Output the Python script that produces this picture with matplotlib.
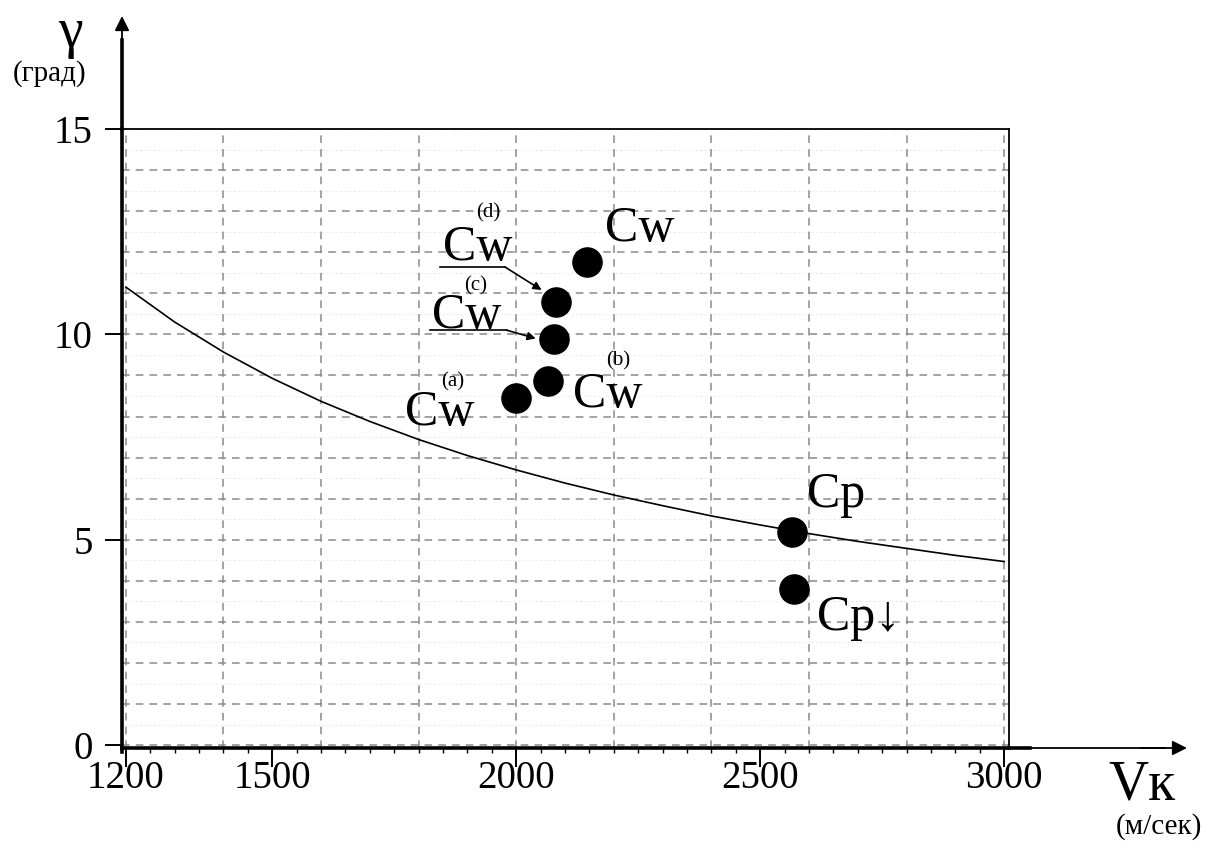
import numpy as np
import matplotlib
matplotlib.use("Agg")
from matplotlib import pyplot as plt
from matplotlib.lines import Line2D
from matplotlib.ticker import MultipleLocator, FixedLocator

plt.rcParams['font.family'] = ['Liberation Serif', 'DejaVu Serif']

# curve gamma(Vk)
curve_v = [1200, 1300, 1400, 1500, 1600, 1700, 1800, 1900, 2000, 2100,
           2200, 2300, 2400, 2500, 2600, 2700, 2800, 2900, 3000]
curve_g = [11.15, 10.30, 9.57, 8.93, 8.37, 7.88, 7.44, 7.05, 6.70, 6.38,
           6.09, 5.83, 5.58, 5.36, 5.15, 4.96, 4.79, 4.62, 4.47]

# measured points
pt_names = ["Cw_a", "Cw_b", "Cw_c", "Cw_d", "Cw", "Cp", "Cp_down"]
pt_v = [2000, 2065, 2077, 2081, 2145, 2565, 2569]
pt_g = [8.45, 8.86, 9.89, 10.79, 11.76, 5.19, 3.80]

x_ticks = [1200, 1500, 2000, 2500, 3000]
y_ticks = [0, 5, 10, 15]

W, H = 1215, 841
fig = plt.figure(figsize=(W / 100, H / 100), dpi=100)
ax = fig.add_axes([122 / W, 1 - 748 / H, 887 / W, 619 / H])

def fpx(x, y):
    return (x / W, 1 - y / H)

ax.set_xlim(1192, 3010)
ax.set_ylim(-0.07, 15)

# grid
for gx in range(1200, 3001, 200):
    ax.axvline(gx, color='#8a8a8a', lw=1.1, ls=(0, (5, 4)), zorder=1)
for gy in range(0, 16):
    ax.axhline(gy, color='#8a8a8a', lw=1.1, ls=(0, (5, 4)), zorder=1)
for gy in np.arange(0.5, 15, 1.0):
    ax.axhline(gy, color='#ececec', lw=0.8, ls=(0, (2, 2)), zorder=0.5)

# spines
for s in ['top', 'right']:
    ax.spines[s].set_linewidth(1.3)
for s in ['left', 'bottom']:
    ax.spines[s].set_linewidth(2.6)

ax.xaxis.set_major_locator(FixedLocator(x_ticks))
ax.xaxis.set_minor_locator(MultipleLocator(50))
ax.yaxis.set_major_locator(FixedLocator(y_ticks))
ax.tick_params(axis='x', which='major', direction='out', length=14, width=1.4,
               labelsize=28, pad=-5)
ax.tick_params(axis='x', which='minor', direction='out', length=3.5, width=1.0)
ax.tick_params(axis='y', which='major', direction='out', length=12, width=1.4,
               labelsize=28, pad=9)
ax.tick_params(top=False, right=False)

# curve and points
ax.plot(curve_v, curve_g, color='black', lw=1.2, zorder=3)
ax.plot(pt_v, pt_g, 'o', color='black', ms=21, zorder=4)

# point labels
fs = 36
sfs = 15
ax.text(2181, 12.27, "Cw", fontsize=fs, ha='left', va='baseline')
ax.text(1850, 11.81, "Cw", fontsize=fs, ha='left', va='baseline')
ax.text(1942, 12.97, "(d)", fontsize=sfs, ha='center', va='center')
ax.text(1827, 10.15, "Cw", fontsize=fs, ha='left', va='baseline')
ax.text(1917, 11.19, "(c)", fontsize=sfs, ha='center', va='center')
ax.text(1772, 7.79, "Cw", fontsize=fs, ha='left', va='baseline')
ax.text(1870, 8.84, "(a)", fontsize=sfs, ha='center', va='center')
ax.text(2116, 8.23, "Cw", fontsize=fs, ha='left', va='baseline')
ax.text(2208, 9.36, "(b)", fontsize=sfs, ha='center', va='center')
ax.text(2597, 5.80, "Cp", fontsize=fs, ha='left', va='baseline')
ax.text(2616, 2.80, "Cp\u2193", fontsize=fs, ha='left', va='baseline')

# leader lines with arrows for Cw(d), Cw(c)
ax.plot([1843, 1977], [11.64, 11.64], color='black', lw=1.2, zorder=3)
ax.annotate("", xy=(2052, 11.08), xytext=(1977, 11.64),
            arrowprops=dict(arrowstyle='-|>', color='black', lw=1.2,
                            mutation_scale=12, shrinkA=0, shrinkB=0))
ax.plot([1823, 1981], [10.10, 10.10], color='black', lw=1.2, zorder=3)
ax.annotate("", xy=(2040, 9.90), xytext=(1981, 10.10),
            arrowprops=dict(arrowstyle='-|>', color='black', lw=1.2,
                            mutation_scale=12, shrinkA=0, shrinkB=0))

# axis arrows
fig.add_artist(Line2D(*zip(fpx(122, 129), fpx(122, 40)), color='black', lw=2.6))
fig.add_artist(Line2D(*zip(fpx(1009, 748), fpx(1030, 748)), color='black', lw=2.6))
fig.add_artist(Line2D(*zip(fpx(1030, 748), fpx(1165, 748)), color='black', lw=1.3))
fig.add_artist(Line2D(*zip(fpx(122, 748), fpx(122, 752)), color='black', lw=2.6))
ar = dict(arrowstyle='-|>', color='black', lw=1.3, mutation_scale=22,
          shrinkA=0, shrinkB=0)
ax.annotate("", xy=fpx(122, 16), xytext=fpx(122, 60), xycoords='figure fraction',
            textcoords='figure fraction', arrowprops=ar)
ax.annotate("", xy=fpx(1187, 748), xytext=fpx(1140, 748), xycoords='figure fraction',
            textcoords='figure fraction', arrowprops=ar)

# axis titles
fig.text(*fpx(70, 33), "\u03b3", fontsize=40, ha='center', va='center')
fig.text(*fpx(50, 74), "(град)", fontsize=21, ha='center', va='center')
fig.text(*fpx(1142, 786), "Vк", fontsize=40, ha='center', va='center')
fig.text(*fpx(1159, 827), "(м/сек)", fontsize=21, ha='center', va='center')

plt.savefig('out.png', dpi=100)
plt.close()
